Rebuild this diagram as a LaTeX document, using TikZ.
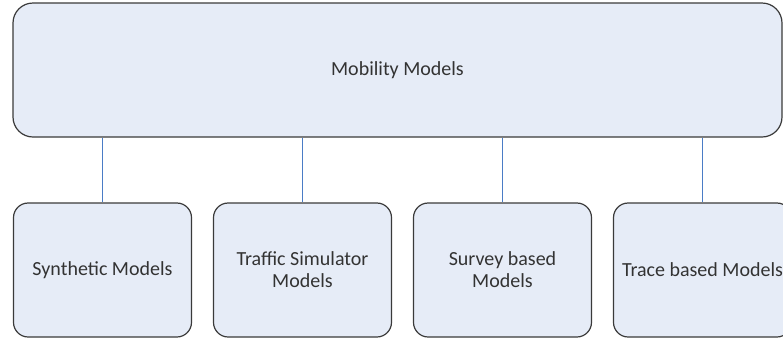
\documentclass[tikz,border=0pt]{standalone}
\usepackage{fontspec}
\setmainfont{Carlito}
\usepackage{xcolor}
\usepackage{tikz}
\usetikzlibrary{positioning}

\definecolor{boxfill}{HTML}{E6ECF7}
\definecolor{boxline}{HTML}{3A3A3A}
\definecolor{linkblue}{HTML}{4A7CC6}

\begin{document}
\begin{tikzpicture}[
      x=0.75pt, y=-0.75pt,
      model/.style={rectangle, draw=boxline, fill=boxfill, line width=0.9pt, rounded corners=11pt, align=center, text=black!80, font=\fontsize{15}{16.5}\selectfont, inner sep=0pt},
      link/.style={draw=linkblue, line width=0.7pt}
    ]
      \useasboundingbox (0,0) rectangle (783,340);
      \clip (0,0) rectangle (783,340);
      \node[model, minimum width=769*0.75pt, minimum height=134*0.75pt, rounded corners=15pt] (mob) at (397.5, 70) {Mobility Models};
      \node[model, minimum width=178*0.75pt, minimum height=134*0.75pt] (syn) at (102.5, 270) {Synthetic Models};
      \node[model, minimum width=178*0.75pt, minimum height=134*0.75pt] (traf) at (302.5, 270) {Traffic Simulator\\Models};
      \node[model, minimum width=178*0.75pt, minimum height=134*0.75pt] (surv) at (502.5, 270) {Survey based\\Models};
      \node[model, minimum width=178*0.75pt, minimum height=134*0.75pt] (trace) at (702.5, 270) {Trace based Models};
      \draw[link] (mob.south -| syn.north) -- (syn.north);
      \draw[link] (mob.south -| traf.north) -- (traf.north);
      \draw[link] (mob.south -| surv.north) -- (surv.north);
      \draw[link] (mob.south -| trace.north) -- (trace.north);
    \end{tikzpicture}
\end{document}
